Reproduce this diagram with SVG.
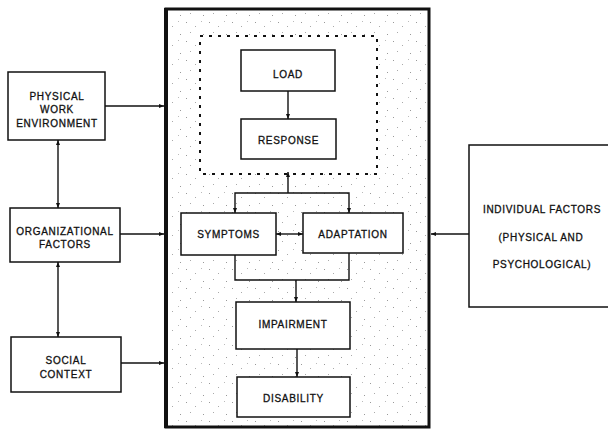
<svg xmlns="http://www.w3.org/2000/svg" width="608" height="430" viewBox="0 0 608 430">
<style>
  .box { fill: #fff; stroke: #111; stroke-width: 1.5; }
  .main { fill: url(#speckle); stroke: #111; stroke-width: 3; }
  .dash { fill: #fff; stroke: #111; stroke-width: 2; stroke-dasharray: 3 6; }
  .lbl { font-family: "Liberation Sans", Arial, sans-serif; font-size: 10px; letter-spacing: 0.7px; fill: #111; stroke: #111; stroke-width: 0.3; text-anchor: middle; }
  .ln { fill: none; stroke: #111; stroke-width: 1.4; }
</style>
<defs>
  <pattern id="speckle" width="23" height="19" patternUnits="userSpaceOnUse">
    <rect width="23" height="19" fill="#fff"/>
    <rect x="2" y="3" width="1" height="1" fill="#999"/>
    <rect x="11" y="7" width="1" height="1" fill="#aaa"/>
    <rect x="17" y="2" width="1" height="1" fill="#bbb"/>
    <rect x="6" y="13" width="1" height="1" fill="#aaa"/>
    <rect x="19" y="15" width="1" height="1" fill="#999"/>
  </pattern>
  <marker id="ah" viewBox="0 0 10 10" refX="10" refY="5" markerWidth="5" markerHeight="5" orient="auto-start-reverse" markerUnits="userSpaceOnUse">
    <path d="M0,1 L10,5 L0,9 z" fill="#111"/>
  </marker>
</defs>

<g id="main-box">
  <rect class="main" x="166" y="9" width="263" height="418"/>
  <line x1="166" y1="8" x2="166" y2="428" stroke="#111" stroke-width="4"/>
  <rect class="dash" x="200" y="36" width="177" height="138"/>
</g>

<g id="physical-work-environment">
  <rect class="box" x="8" y="72" width="97" height="68"/>
  <text class="lbl" x="57" y="99.5">PHYSICAL</text>
  <text class="lbl" x="57" y="113">WORK</text>
  <text class="lbl" x="57" y="126.5">ENVIRONMENT</text>
</g>
<g id="organizational-factors">
  <rect class="box" x="10" y="208" width="110" height="54"/>
  <text class="lbl" x="65" y="234.5">ORGANIZATIONAL</text>
  <text class="lbl" x="65" y="247.5">FACTORS</text>
</g>
<g id="social-context">
  <rect class="box" x="11" y="337" width="110" height="55"/>
  <text class="lbl" x="66" y="363.5">SOCIAL</text>
  <text class="lbl" x="66" y="377.5">CONTEXT</text>
</g>
<g id="individual-factors">
  <rect class="box" x="469" y="145" width="145" height="162"/>
  <text class="lbl" x="542" y="212.5">INDIVIDUAL FACTORS</text>
  <text class="lbl" x="541" y="240.5">(PHYSICAL AND</text>
  <text class="lbl" x="542" y="267.5">PSYCHOLOGICAL)</text>
</g>
<g id="load">
  <rect class="box" x="241" y="50" width="94" height="41"/>
  <text class="lbl" x="288" y="77.5">LOAD</text>
</g>
<g id="response">
  <rect class="box" x="241" y="119" width="95" height="40"/>
  <text class="lbl" x="288.5" y="143.5">RESPONSE</text>
</g>
<g id="symptoms">
  <rect class="box" x="181" y="213" width="95" height="42"/>
  <text class="lbl" x="228.5" y="237.5">SYMPTOMS</text>
</g>
<g id="adaptation">
  <rect class="box" x="303" y="213" width="100" height="40"/>
  <text class="lbl" x="353" y="237.5">ADAPTATION</text>
</g>
<g id="impairment">
  <rect class="box" x="236" y="302" width="114" height="47"/>
  <text class="lbl" x="293" y="327.5">IMPAIRMENT</text>
</g>
<g id="disability">
  <rect class="box" x="237" y="377" width="113" height="40"/>
  <text class="lbl" x="293.5" y="401.5">DISABILITY</text>
</g>

<g id="connectors">
  <line class="ln" x1="105" y1="106" x2="164" y2="106" marker-end="url(#ah)"/>
  <line class="ln" x1="120" y1="234" x2="164" y2="234" marker-end="url(#ah)"/>
  <line class="ln" x1="121" y1="363" x2="164" y2="363" marker-end="url(#ah)"/>
  <line class="ln" x1="469" y1="234" x2="431" y2="234" marker-end="url(#ah)"/>
  <line class="ln" x1="58" y1="140" x2="58" y2="208" marker-start="url(#ah)" marker-end="url(#ah)"/>
  <line class="ln" x1="58" y1="262" x2="58" y2="337" marker-start="url(#ah)" marker-end="url(#ah)"/>
  <line class="ln" x1="288" y1="91" x2="288" y2="119" marker-end="url(#ah)"/>
  <path class="ln" d="M235,213 V193 H349 V213" marker-start="url(#ah)" marker-end="url(#ah)"/>
  <line class="ln" x1="288" y1="193" x2="288" y2="172" marker-end="url(#ah)"/>
  <line class="ln" x1="276" y1="234" x2="303" y2="234" marker-start="url(#ah)" marker-end="url(#ah)"/>
  <path class="ln" d="M235,255 V280 H349 V253"/>
  <line class="ln" x1="296" y1="280" x2="296" y2="302" marker-end="url(#ah)"/>
  <line class="ln" x1="297" y1="349" x2="297" y2="377" marker-end="url(#ah)"/>
</g>
</svg>
